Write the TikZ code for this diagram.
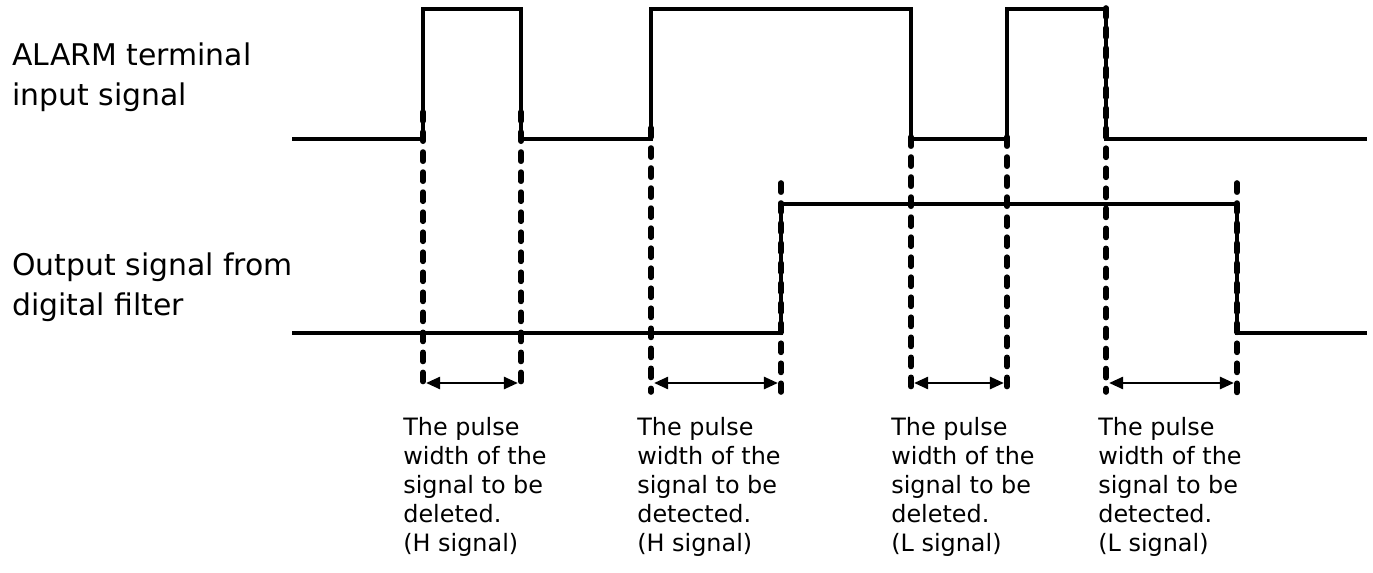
\documentclass[tikz,border=0pt]{standalone}
\usepackage{fontspec}
\setmainfont{DejaVu Sans}
\usetikzlibrary{arrows.meta}

\tikzset{
  wave/.style={line width=2pt},
  edgemark/.style={line width=3.2pt,line cap=round,dash pattern=on 5.2pt off 6.2pt},
  widtharrow/.style={line width=1.2pt,{Triangle[length=8pt,width=7pt]}-{Triangle[length=8pt,width=7pt]},
    shorten <=1.8pt,shorten >=1.8pt},
  caption/.style={anchor=north west,inner sep=0pt,align=left,font=\fontsize{13.6pt}{16.5pt}\selectfont},
  signame/.style={anchor=north west,inner sep=0pt,align=left,font=\fontsize{17pt}{22.8pt}\selectfont}
}

\begin{document}
\begin{tikzpicture}[x=0.02cm,y=0.02cm]
  \useasboundingbox (0,0) rectangle (1373,572);
  % input signal
  \coordinate (i0) at (292,433);
  \coordinate (i1) at (423,433);
  \coordinate (i2) at (521,433);
  \coordinate (i3) at (651,433);
  \coordinate (i4) at (911,433);
  \coordinate (i5) at (1007,433);
  \coordinate (i6) at (1106,433);
  \coordinate (i7) at (1367,433);
  \draw[wave] (i0) -- (i1) -- ++(0,130) -| (i2) -- (i3) -- ++(0,130) -| (i4)
    -- (i5) -- ++(0,130) -| (i6) -- (i7);
  % filter output
  \coordinate (o0) at (292,239);
  \coordinate (o1) at (781,239);
  \coordinate (o2) at (1237,239);
  \coordinate (o3) at (1367,239);
  \draw[wave] (o0) -- (o1) -- ++(0,129) -| (o2) -- (o3);
  % edge marks
  \draw[edgemark] (423,460) -- (423,180);
  \draw[edgemark] (521,460) -- (521,180);
  \draw[edgemark] (651,444) -- (651,180);
  \draw[edgemark] (781,389) -- (781,180);
  \draw[edgemark] (911,435) -- (911,180);
  \draw[edgemark] (1007,435) -- (1007,180);
  \draw[edgemark] (1106,564) -- (1106,180);
  \draw[edgemark] (1237,389) -- (1237,175);
  % widths
  \coordinate (a1) at (423,189);
  \coordinate (a2) at (521,189);
  \coordinate (a3) at (651,189);
  \coordinate (a4) at (781,189);
  \coordinate (a5) at (911,189);
  \coordinate (a6) at (1007,189);
  \coordinate (a7) at (1106,189);
  \coordinate (a8) at (1237,189);
  \draw[widtharrow] (a1) -- (a2);
  \draw[widtharrow] (a3) -- (a4);
  \draw[widtharrow] (a5) -- (a6);
  \draw[widtharrow] (a7) -- (a8);
  % labels
  \node[signame] (alarm) at (12,530) {ALARM terminal\\input signal};
  \node[signame] (filt) at (12,320) {Output signal from\\digital filter};
  \node[caption] (c1) at (403,155) {The pulse\\width of the\\signal to be\\deleted.\\(H signal)};
  \node[caption] (c2) at (637,155) {The pulse\\width of the\\signal to be\\detected.\\(H signal)};
  \node[caption] (c3) at (891,155) {The pulse\\width of the\\signal to be\\deleted.\\(L signal)};
  \node[caption] (c4) at (1098,155) {The pulse\\width of the\\signal to be\\detected.\\(L signal)};
\end{tikzpicture}
\end{document}
